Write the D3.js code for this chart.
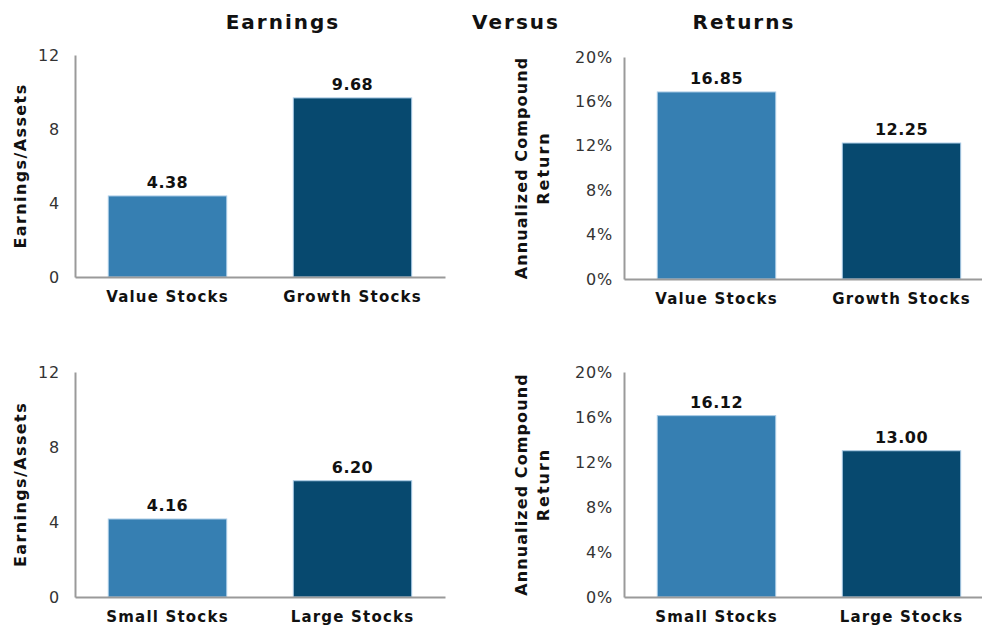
<!DOCTYPE html>
<html><head><meta charset="utf-8">
<script src="https://cdn.jsdelivr.net/npm/d3@7"></script>
<style>
body{margin:0;background:#fff;}
svg{display:block;}
text{font-family:"DejaVu Sans",Verdana,sans-serif;}
</style></head>
<body>
<svg id="c" width="982" height="630"></svg>
<script>
const titleWords = ["Earnings", "Versus", "Returns"];
const categoriesTop = ["Value Stocks", "Growth Stocks"];
const categoriesBottom = ["Small Stocks", "Large Stocks"];
const earningsTop = [4.38, 9.68];
const returnsTop = [16.85, 12.25];
const earningsBottom = [4.16, 6.20];
const returnsBottom = [16.12, 13.00];
const earningsTicks = [0, 4, 8, 12];
const returnsTicks = [0, 4, 8, 12, 16, 20];
const barColors = ["#367fb2", "#07496f"];

const svg = d3.select("#c");

// Title
const titleX = [283, 516, 744];
titleWords.forEach((w, i) => {
  svg.append("text").attr("x", titleX[i]).attr("y", 29)
    .attr("text-anchor", "middle").attr("font-size", 20).attr("font-weight", "bold")
    .attr("letter-spacing", 2).attr("fill", "#111").text(w);
});

function panel(opt) {
  const g = svg.append("g");
  const x = d3.scaleBand().domain(opt.cats).range([opt.x0, opt.x0 + 370])
    .paddingInner(0.36).paddingOuter(0.18);
  const y = d3.scaleLinear().domain([0, opt.max]).range([opt.yZero, opt.yTop]);

  // bars
  g.selectAll("rect.bar").data(opt.values).join("rect")
    .attr("x", (d, i) => x(opt.cats[i]))
    .attr("y", d => y(d))
    .attr("width", x.bandwidth())
    .attr("height", d => y(0) - y(d))
    .attr("fill", (d, i) => barColors[i])
    .attr("stroke", "#a9cbe6").attr("stroke-width", 1);

  // value labels
  g.selectAll("text.val").data(opt.values).join("text")
    .attr("x", (d, i) => x(opt.cats[i]) + x.bandwidth() / 2)
    .attr("y", d => y(d) - 8)
    .attr("text-anchor", "middle").attr("font-size", 16).attr("font-weight", "bold")
    .attr("letter-spacing", 0.5)
    .attr("fill", "#111").text(d => d.toFixed(2));

  // y axis
  const ya = d3.axisLeft(y).tickValues(opt.ticks).tickSize(0).tickPadding(opt.tickPad)
    .tickFormat(opt.fmt);
  const yg = g.append("g").attr("transform", `translate(${opt.x0},0)`).call(ya);
  yg.select(".domain").attr("stroke", "#9a9a9a").attr("stroke-width", 2);
  yg.selectAll("text").attr("font-size", 16).attr("fill", "#333").attr("letter-spacing", 0.8)
    .attr("font-family", "DejaVu Sans, Verdana, sans-serif");

  // x axis
  const xa = d3.axisBottom(x).tickSize(0).tickPadding(14);
  const xg = g.append("g").attr("transform", `translate(0,${opt.yZero})`).call(xa);
  xg.select(".domain").attr("stroke", "#9a9a9a").attr("stroke-width", 2);
  xg.selectAll("text").attr("font-size", 15).attr("font-weight", "bold").attr("fill", "#111")
    .attr("letter-spacing", 1.2)
    .attr("font-family", "DejaVu Sans, Verdana, sans-serif");

  // y label
  const cy = (opt.yZero + opt.yTop) / 2;
  const lab = g.append("text").attr("transform", `translate(${opt.labX},${cy}) rotate(-90)`)
    .attr("text-anchor", "middle").attr("font-size", 16).attr("font-weight", "bold").attr("fill", "#111");
  opt.label.forEach((l, i) => {
    lab.append("tspan").attr("x", 0).attr("dy", i === 0 ? 0 : 22)
      .attr("letter-spacing", opt.labSpacing[i]).text(l);
  });
}

panel({x0: 75, yTop: 55, yZero: 277, max: 12, cats: categoriesTop, values: earningsTop,
  ticks: earningsTicks, fmt: d => d, tickPad: 15, label: ["Earnings/Assets"], labSpacing: [1.4], labX: 26});
panel({x0: 624, yTop: 57, yZero: 279, max: 20, cats: categoriesTop, values: returnsTop,
  ticks: returnsTicks, fmt: d => d + "%", tickPad: 11, label: ["Annualized Compound", "Return"],
  labSpacing: [1.1, 2], labX: 527});
panel({x0: 75, yTop: 372, yZero: 597, max: 12, cats: categoriesBottom, values: earningsBottom,
  ticks: earningsTicks, fmt: d => d, tickPad: 15, label: ["Earnings/Assets"], labSpacing: [1.4], labX: 26});
panel({x0: 624, yTop: 372, yZero: 597, max: 20, cats: categoriesBottom, values: returnsBottom,
  ticks: returnsTicks, fmt: d => d + "%", tickPad: 11, label: ["Annualized Compound", "Return"],
  labSpacing: [1.1, 2], labX: 527});
</script>
</body></html>
